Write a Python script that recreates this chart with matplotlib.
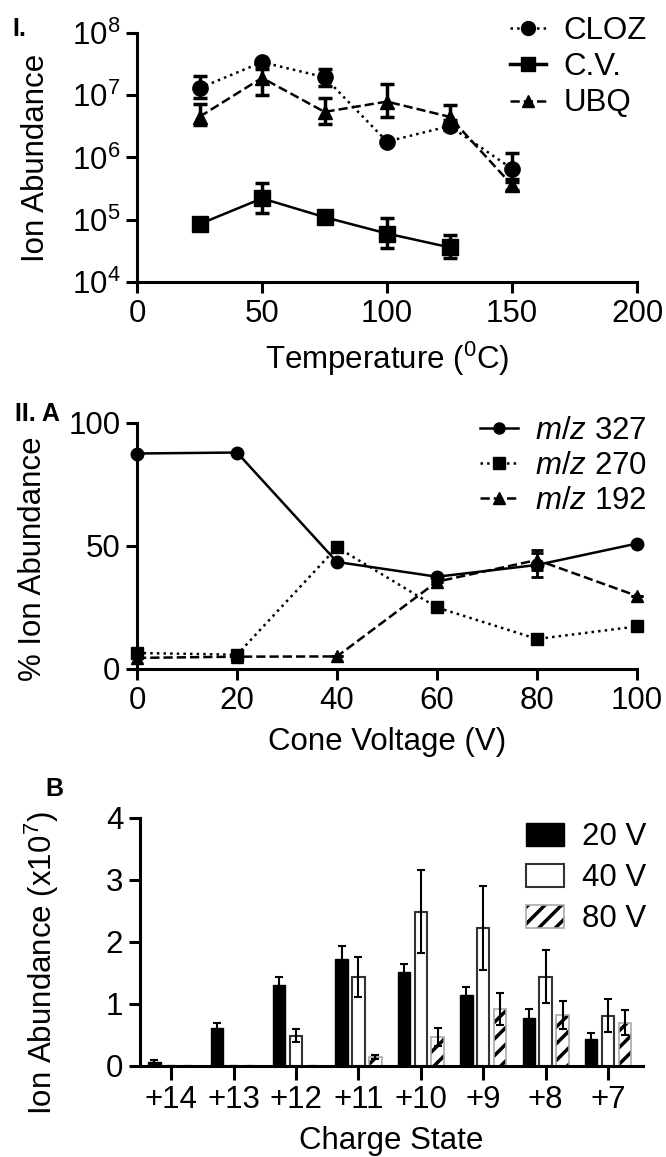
import numpy as np
import matplotlib
matplotlib.use("Agg")
import matplotlib.pyplot as plt
from matplotlib.patches import Patch
from matplotlib.lines import Line2D

plt.rcParams['font.family'] = ['Liberation Sans', 'DejaVu Sans']
plt.rcParams['mathtext.fontset'] = 'custom'
plt.rcParams['mathtext.rm'] = 'Liberation Sans'
plt.rcParams['mathtext.it'] = 'Liberation Sans:italic'
plt.rcParams['hatch.linewidth'] = 2.5

###############################################################################
# Data

# Panel I: ion abundance vs temperature
temp = [25, 50, 75, 100, 125, 150]
cloz = [1.3e7, 3.4e7, 1.95e7, 1.8e6, 3.2e6, 6.6e5]
cloz_lo = [9e6, 3.4e7, 1.4e7, 1.8e6, 2.8e6, 4e5]
cloz_hi = [2e7, 3.4e7, 2.6e7, 1.8e6, 4e6, 1.2e6]
ubq = [4.5e6, 1.9e7, 5.4e6, 7.9e6, 4.5e6, 3.6e5]
ubq_lo = [3.3e6, 1.0e7, 3.5e6, 4.5e6, 3.1e6, 3.0e5]
ubq_hi = [7.2e6, 2.6e7, 9e6, 1.5e7, 7e6, 4.5e5]
temp_cv = [25, 50, 75, 100, 125]
cv = [8.5e4, 2.2e5, 1.1e5, 6e4, 3.6e4]
cv_lo = [7.8e4, 1.3e5, 9e4, 3.5e4, 2.4e4]
cv_hi = [9.5e4, 3.9e5, 1.3e5, 1.06e5, 5.6e4]

# Panel II A: % ion abundance vs cone voltage
cone_v = [0, 20, 40, 60, 80, 100]
mz327 = [87.6, 88, 43.5, 37.5, 42.3, 51]
mz327_err = [0, 0, 0, 0, 5, 0]
mz270 = [6.5, 5.8, 49.5, 25, 12.2, 17.3]
mz192 = [4.5, 5, 5.1, 35.5, 44.3, 29.7]
mz192_err = [0, 0, 0, 0, 4, 0]

# Panel II B: ion abundance (x10^7) by charge state
charge = ['+14', '+13', '+12', '+11', '+10', '+9', '+8', '+7']
v20 = [0.07, 0.61, 1.30, 1.73, 1.51, 1.14, 0.77, 0.43]
v20_err = [0.02, 0.09, 0.14, 0.20, 0.13, 0.13, 0.15, 0.10]
v40 = [0, 0, 0.49, 1.44, 2.49, 2.22, 1.44, 0.81]
v40_err = [0, 0, 0.11, 0.32, 0.67, 0.68, 0.43, 0.27]
v80 = [0, 0, 0, 0.15, 0.47, 0.92, 0.82, 0.70]
v80_err = [0, 0, 0, 0.03, 0.15, 0.26, 0.22, 0.20]

###############################################################################
# Plot

fig = plt.figure(figsize=(6.66, 11.57), dpi=100)
FS = 22.5
spine_lw = 2.2


def style_axes(ax):
    for s in ['top', 'right']:
        ax.spines[s].set_visible(False)
    for s in ['left', 'bottom']:
        ax.spines[s].set_linewidth(spine_lw)
    ax.tick_params(which='major', direction='out', length=8, width=spine_lw,
                   labelsize=FS, pad=4)


# ---- Panel I
ax1 = fig.add_axes([0.2057, 0.7563, 0.7508, 0.2152])
style_axes(ax1)
t = np.array(temp)
tc = np.array(temp_cv)
for x, y, lo, hi, mk, ls, lab, ms in [
        (t, cloz, cloz_lo, cloz_hi, 'o', ':', 'CLOZ', 11),
        (tc, cv, cv_lo, cv_hi, 's', '-', 'C.V.', 11),
        (t, ubq, ubq_lo, ubq_hi, '^', '--', 'UBQ', 10)]:
    y = np.array(y)
    err = [y - np.array(lo), np.array(hi) - y]
    ax1.errorbar(x, y, yerr=err, fmt=mk, ls=ls, color='black', lw=1.8,
                 ms=ms, elinewidth=2.5, capsize=5, capthick=2.5, label=lab,
                 clip_on=False)
ax1.set_yscale('log')
ax1.set_ylim(1e4, 1e8)
ax1.set_xlim(0, 200)
ax1.set_xticks([0, 50, 100, 150, 200])
ax1.set_yticks([1e4, 1e5, 1e6, 1e7, 1e8])
ax1.set_yticklabels([r'10$^{4}$', r'10$^{5}$', r'10$^{6}$', r'10$^{7}$', r'10$^{8}$'])
ax1.tick_params(which='minor', direction='out', length=4, width=1.5)
ax1.set_xlabel(r'Temperature ($^{0}$C)', fontsize=FS, labelpad=8)
ax1.set_ylabel('Ion Abundance', fontsize=FS)
ax1.yaxis.set_label_coords(-0.172, 0.5)
h1 = [Line2D([], [], color='black', ls=':', marker='o', ms=10, lw=1.8),
      Line2D([], [], color='black', ls='-', marker='s', ms=10, lw=2.5),
      Line2D([], [], color='black', ls='--', marker='^', ms=9, lw=1.8)]
fig.legend(h1, ['CLOZ', 'C.V.', 'UBQ'], loc='upper right',
           bbox_to_anchor=(0.99, 0.997), frameon=False, fontsize=FS,
           handlelength=1.15, handletextpad=0.55, labelspacing=0.2,
           borderaxespad=0)
fig.text(0.018, 0.969, 'I.', fontsize=18, fontweight='bold')

# ---- Panel II A
ax2 = fig.add_axes([0.2057, 0.4218, 0.7508, 0.2126])
style_axes(ax2)
ax2.errorbar(cone_v, mz327, yerr=mz327_err, fmt='o', ls='-', color='black',
             lw=1.8, ms=9, elinewidth=2, capsize=4, capthick=2, clip_on=False)
ax2.plot(cone_v, mz270, marker='s', ls=':', color='black', lw=1.8, ms=9,
         clip_on=False)
ax2.errorbar(cone_v, mz192, yerr=mz192_err, fmt='^', ls='--', color='black',
             lw=1.8, ms=8, elinewidth=2, capsize=4, capthick=2, clip_on=False)
ax2.set_xlim(0, 100)
ax2.set_ylim(0, 100)
ax2.set_xticks([0, 20, 40, 60, 80, 100])
ax2.set_yticks([0, 50, 100])
ax2.set_xlabel('Cone Voltage (V)', fontsize=FS, labelpad=8)
ax2.set_ylabel('% Ion Abundance', fontsize=FS)
ax2.yaxis.set_label_coords(-0.178, 0.45)
h2 = [Line2D([], [], color='black', ls='-', marker='o', ms=8, lw=1.8),
      Line2D([], [], color='black', ls=':', marker='s', ms=8, lw=1.8),
      Line2D([], [], color='black', ls='--', marker='^', ms=8, lw=1.8)]
fig.legend(h2, [r'$\mathit{m/z}$ 327', r'$\mathit{m/z}$ 270', r'$\mathit{m/z}$ 192'],
           loc='upper right', bbox_to_anchor=(0.99, 0.651), frameon=False,
           fontsize=FS, handlelength=1.2, handletextpad=0.55, labelspacing=0.15,
           borderaxespad=0)
fig.text(0.022, 0.636, 'II. A', fontsize=18, fontweight='bold')

# ---- Panel II B
ax3 = fig.add_axes([0.2102, 0.0787, 0.7553, 0.2143])
style_axes(ax3)
xpos = np.arange(len(charge))
w = 0.2
off = 0.27
ekw = dict(elinewidth=1.5, capsize=3, capthick=1.5, ecolor='black')
ax3.bar(xpos - off, v20, w, color='black', edgecolor='black', yerr=v20_err,
        error_kw=ekw, zorder=2)
ax3.bar(xpos, v40, w, color='white', edgecolor='#333333', lw=1.5, yerr=v40_err,
        error_kw=ekw, zorder=2)
# hatched bars: black hatch, light grey outline
ax3.bar(xpos + off, v80, w, color='white', edgecolor='black', lw=0,
        hatch='//', zorder=2)
ax3.bar(xpos + off, v80, w, fill=False, edgecolor='#aaaaaa', lw=1.2,
        yerr=v80_err, error_kw=ekw, zorder=2)
ax3.set_xlim(-0.5, 7.56)
ax3.set_ylim(0, 4)
ax3.set_xticks(xpos)
ax3.set_xticklabels(charge)
ax3.set_yticks([0, 1, 2, 3, 4])
ax3.tick_params(axis='x', length=10)
ax3.set_xlabel('Charge State', fontsize=FS, labelpad=8)
ax3.set_ylabel(r'Ion Abundance (x10$^{7}$)', fontsize=FS)
ax3.yaxis.set_label_coords(-0.158, 0.415)
h3 = [Patch(facecolor='black', edgecolor='black'),
      Patch(facecolor='white', edgecolor='#333333', lw=1.5),
      (Patch(facecolor='white', edgecolor='black', hatch='//', lw=0),
       Patch(fill=False, edgecolor='#aaaaaa', lw=1.2))]
fig.legend(h3, ['20 V', '40 V', '80 V'], loc='upper right',
           bbox_to_anchor=(0.99, 0.3), frameon=False, fontsize=FS,
           handlelength=1.2, handleheight=0.75, handletextpad=0.6,
           labelspacing=0.35, borderaxespad=0)
fig.text(0.068, 0.312, 'B', fontsize=18, fontweight='bold')

fig.savefig('out.png', dpi=100)
